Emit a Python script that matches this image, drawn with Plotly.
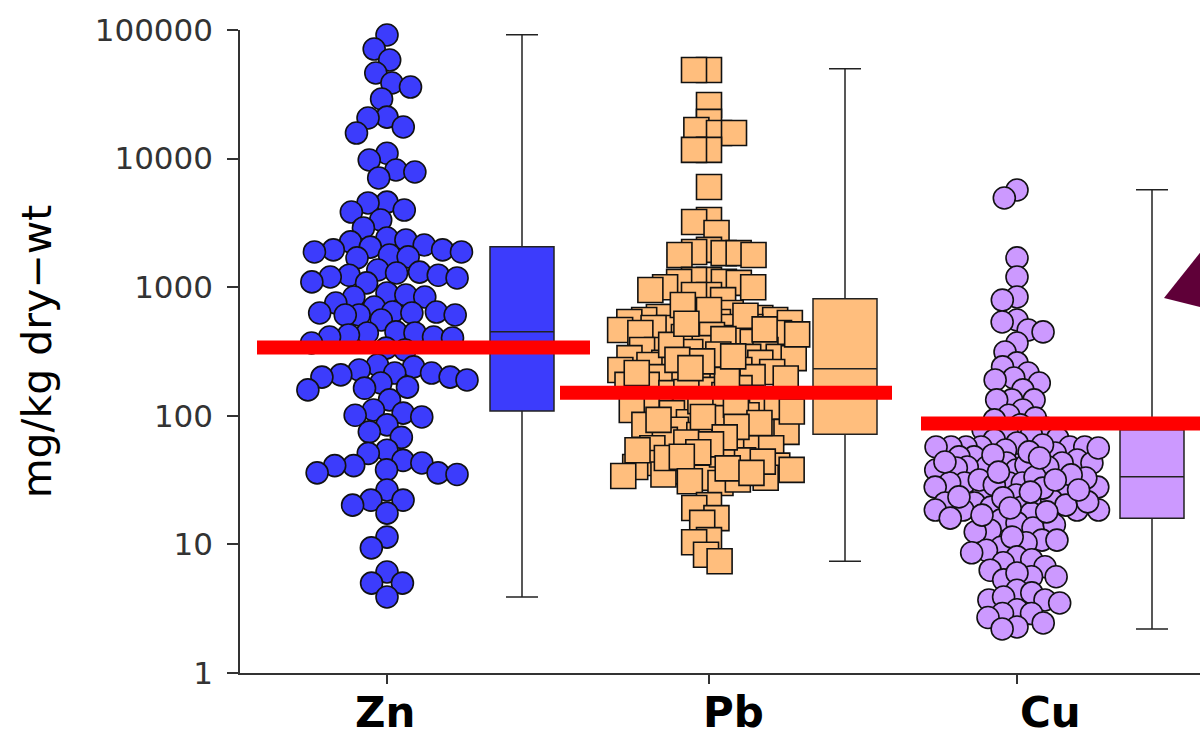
import math
import plotly.graph_objects as go

# ---------------- data ----------------
categories = ["Zn", "Pb", "Cu"]

zn_values = [91400, 71100, 58400, 46300, 38700, 36000, 29100, 21000, 20700, 17600, 15800, 11000,
             9750, 8150, 7870, 7070, 4590, 4520, 3980, 3840, 3330, 2890, 2410, 2330, 2250, 2130,
             2050, 1950, 1950, 1880, 1880, 1780, 1720, 1690, 1360, 1310, 1290, 1240, 1240, 1200,
             1180, 1100, 1080, 902, 870, 839, 839, 754, 701, 641, 641, 630, 630, 608, 608, 608,
             556, 449, 441, 441, 425, 410, 410, 403, 368, 336, 325, 248, 240, 227, 215, 215, 208,
             200, 200, 190, 180, 167, 164, 159, 133, 111, 105, 101, 98, 85, 75, 68, 54, 51, 45, 43,
             41, 41, 38, 36, 36, 35, 26.5, 22.1, 22.1, 20.2, 17.5, 11.4, 9.4, 6.1, 5.0, 5.0, 3.9]

pb_values = [48900, 48900, 26100, 19300, 16700, 15800, 15800, 11700, 11700, 6010, 3330, 3210, 2640,
             1950, 1880, 1840, 1840, 1780, 1780,
             1140, 1140, 1100, 1100, 1080, 1000, 1000, 870, 870, 951, 794,
             630, 608, 586, 586, 576, 556, 556, 536, 536, 527, 527, 491, 491, 482, 482, 465, 449,
             441, 441, 410, 403, 375, 727, 665, 425,
             336, 325, 325, 325, 313, 287, 287, 281, 281, 258, 258, 248, 240, 227, 227, 219, 200,
             200, 200, 356, 272, 208,
             183, 174, 164, 159, 150, 145, 138, 174, 153, 190,
             126, 117, 117, 115, 111, 111, 111, 105, 89, 85, 80, 78, 75, 75, 71, 71, 101, 96, 65, 93,
             57, 56, 56, 56, 45, 43, 43, 41, 40, 40, 38, 37, 35, 33, 33, 30, 50, 32, 54, 47,
             600, 520, 470, 430, 395, 300, 290, 265, 235, 215, 195, 130, 122, 108, 98, 88, 82, 68,
             62, 60, 52, 48, 44, 39, 36, 34, 31,
             20.2, 19.2, 16, 14.7, 10.8, 10.4, 8.3, 7.4]

cu_values = [5700, 4940, 1690, 1200, 839, 794, 556, 536, 465, 449, 368, 313, 258, 240, 215, 197,
             190, 180, 159, 133, 133, 133,
             111, 101, 96, 93, 85, 80, 78, 75, 71, 67,
             65, 57.2, 57.2, 57.2, 57.2, 57.2, 57.2, 51.4, 47.9, 47.9, 47.9, 45.3, 61.5, 54.2,
             43.0, 43.0, 43.0, 40.0, 40.0, 40.0, 37.9, 37.9, 41.4, 39.3,
             30.0, 30.0, 30.0, 30.0, 27.9, 27.9, 26.5, 25.1, 31.7, 32.8, 29.0, 24.2,
             21.0, 21.0, 21.0, 19.5, 19.5, 18.5, 18.5, 18.5, 18.5, 17.5, 22.1, 23.0, 20.2,
             15.5, 14.7, 13.4, 12.9, 12.5, 16.0, 14.2,
             10.8, 10.8, 10.3, 9.5, 9.0, 11.4,
             8.0, 7.6, 7.2, 6.7, 8.6,
             6.3, 5.6, 5.6, 5.3, 6.0,
             4.4, 4.2, 3.7, 3.7, 3.5, 3.9,
             3.1, 2.9, 2.9, 2.7,
             2.45, 2.28, 2.2,
             59.3, 52.4, 49.6, 43.7, 36.5, 34.7, 33.4, 27.4, 25.5, 23.4, 21.4, 19.2, 17.9, 16.9,
             56.2, 47.0, 31.7, 26.5]

# box statistics (mg/kg)
box_lowerfence = [3.9, 7.4, 2.2]
box_q1 = [109, 72, 16]
box_median = [450, 232, 33.6]
box_q3 = [2063, 813, 78]
box_upperfence = [91800, 49900, 5720]

thresholds = [340, 151, 87]

# ---------------- layout constants ----------------
W, H = 1200, 734
ML, MR, MT, MB = 240, 0, 30, 61
PLOT_H = H - MT - MB
YMIN_LOG, YMAX_LOG = 0, 5

cat_x = [387, 709, 1017]          # swarm centres / ticks
box_x = [522, 845, 1152]          # box positions
label_x = [385, 733, 1050]        # category label centres
red_extent = [(257, 590), (560, 892), (921, 1215)]

fills = ["rgb(60,60,252)", "rgb(255,190,125)", "rgb(204,153,255)"]
symbols = ["circle", "square", "circle"]
sizes = [22, 25, 22]
seps = [19, 15, 15]          # preferred spacing between marker centres (px)
half_width = [80, 90, 82]    # maximum half-width of each swarm (px)


def swarm_offsets(values, d0, cap):
    ys = [(YMAX_LOG - math.log10(v)) * PLOT_H / (YMAX_LOG - YMIN_LOG) for v in values]
    placed = []
    xs = [0.0] * len(values)
    order = sorted(range(len(values)), key=lambda i: ys[i])
    for i in order:
        y = ys[i]
        d = d0
        chosen = None
        while chosen is None:
            near = [(px, py) for px, py in placed if abs(py - y) < d]
            cands = [0.0]
            for px, py in near:
                dx = math.sqrt(max(d * d - (py - y) ** 2, 0))
                cands += [px + dx, px - dx]
            cands.sort(key=lambda c: (abs(c), c))
            for c in cands:
                if abs(c) > cap:
                    break
                if all((c - px) ** 2 + (y - py) ** 2 >= d * d - 1e-6 for px, py in near):
                    chosen = c
                    break
            d *= 0.9
            if d < 2:
                chosen = 0.0
        placed.append((chosen, y))
        xs[i] = chosen
    return xs


fig = go.Figure()

all_values = [zn_values, pb_values, cu_values]
for k, vals in enumerate(all_values):
    offs = swarm_offsets(vals, seps[k], half_width[k])
    fig.add_trace(go.Scatter(
        x=[cat_x[k] + o for o in offs], y=vals, mode="markers",
        marker=dict(symbol=symbols[k], size=sizes[k], color=fills[k],
                    line=dict(color="#111111", width=1.6)),
        cliponaxis=False, showlegend=False, hoverinfo="y"))

for k in range(3):
    fig.add_trace(go.Box(
        x=[box_x[k]], q1=[box_q1[k]], median=[box_median[k]], q3=[box_q3[k]],
        lowerfence=[box_lowerfence[k]], upperfence=[box_upperfence[k]],
        width=64, whiskerwidth=0.5, fillcolor=fills[k],
        line=dict(color="#222222", width=1.5), boxpoints=False, showlegend=False))

for k in range(3):
    fig.add_trace(go.Scatter(
        x=list(red_extent[k]), y=[thresholds[k], thresholds[k]], mode="lines",
        line=dict(color="#ff0000", width=14), cliponaxis=False,
        showlegend=False, hoverinfo="skip"))

# category labels
for k, c in enumerate(categories):
    fig.add_annotation(x=label_x[k], xref="x", y=0, yref="paper", yanchor="top",
                       text="<b>%s</b>" % c, showarrow=False, yshift=-13,
                       font=dict(family="DejaVu Sans", size=42, color="#000000"))

# dark triangle marker at the right edge
fig.add_shape(type="path", xref="paper", yref="paper",
              path="M 0.9625,0.5832 L 1.0521,0.7512 L 1.0521,0.5498 Z",
              fillcolor="#5f0038", line=dict(width=0), layer="above")

fig.update_layout(
    width=W, height=H, margin=dict(l=ML, r=MR, t=MT, b=MB),
    paper_bgcolor="white", plot_bgcolor="white", showlegend=False,
    boxmode="overlay",
    xaxis=dict(range=[240, 1200], showgrid=False, zeroline=False,
               showline=True, linecolor="#333333", linewidth=1.5,
               ticks="outside", ticklen=9, tickwidth=1.5, tickcolor="#333333",
               tickvals=cat_x, showticklabels=False),
    yaxis=dict(type="log", range=[YMIN_LOG, YMAX_LOG], showgrid=False, zeroline=False,
               showline=True, linecolor="#333333", linewidth=1.5,
               ticks="outside", ticklen=11, tickwidth=1.5, tickcolor="#333333",
               tickvals=[1, 10, 100, 1000, 10000, 100000],
               ticktext=["1", "10", "100", "1000", "10000", "100000"],
               ticklabelstandoff=8,
               tickfont=dict(family="DejaVu Sans", size=31, color="#333333"),
               title=dict(text="mg/kg dry\u2212wt", standoff=30,
                          font=dict(family="DejaVu Sans", size=41, color="#000000"))),
)

fig.write_html("out.html", config={"displayModeBar": False},
               post_script="document.body.style.margin='0px';document.body.style.overflow='hidden';")
